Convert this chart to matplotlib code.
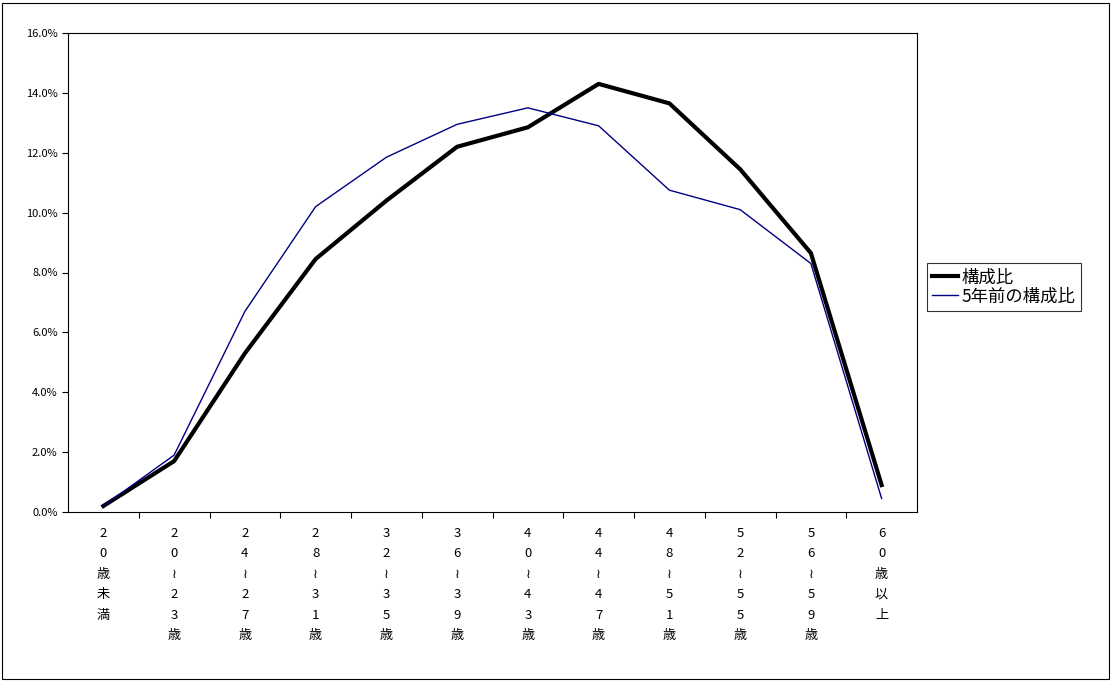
import matplotlib
matplotlib.use("Agg")
import matplotlib.pyplot as plt
from matplotlib.ticker import FuncFormatter, MultipleLocator

plt.rcParams['font.family'] = ['Noto Sans CJK JP', 'DejaVu Sans']

categories = ["20歳未満", "20≀23歳", "24≀27歳", "28≀31歳", "32≀35歳", "36≀39歳",
              "40≀43歳", "44≀47歳", "48≀51歳", "52≀55歳", "56≀59歳", "60歳以上"]
current = [0.2, 1.7, 5.3, 8.45, 10.4, 12.2, 12.85, 14.3, 13.65, 11.45, 8.65, 0.9]
five_years_ago = [0.2, 1.9, 6.7, 10.2, 11.85, 12.95, 13.5, 12.9, 10.75, 10.1, 8.3, 0.45]

fig = plt.figure(figsize=(11.12, 6.81), dpi=100)
ax = fig.add_axes([68/1112, 1-512/681, (917-68)/1112, (512-33)/681])
x = list(range(len(categories)))
ax.plot(x, current, color='black', lw=3, label='構成比')
ax.plot(x, five_years_ago, color='#000080', lw=1, label='5年前の構成比')
ax.set_xlim(-0.5, len(categories)-0.5)
ax.set_ylim(0, 16)
ax.yaxis.set_major_locator(MultipleLocator(2))
ax.yaxis.set_major_formatter(FuncFormatter(lambda v, p: f"{v:.1f}%"))
ax.tick_params(axis='y', labelsize=8, direction='out', length=4)
ax.set_xticks([i+0.5 for i in range(len(categories)-1)], minor=False)
ax.set_xticklabels([])
ax.tick_params(axis='x', direction='out', length=4)
for i, c in enumerate(categories):
    ax.text(i, -0.5, "\n".join(c), ha='center', va='top', fontsize=9.5,
            linespacing=1.75, transform=ax.transData)
for s in ax.spines.values():
    s.set_linewidth(0.8)
leg = ax.legend(loc='center left', bbox_to_anchor=(1.012, 0.47), fontsize=12.5,
                frameon=True, fancybox=False, edgecolor='black', handlelength=1.5,
                handletextpad=0.2, borderpad=0.3, labelspacing=0.05, borderaxespad=0)
leg.get_frame().set_linewidth(0.8)
fig.patches.append(plt.Rectangle((2/1112, 2/681), 1-5/1112, 1-5/681, transform=fig.transFigure,
                                 fill=False, edgecolor='black', lw=0.8))
fig.savefig("out.png", dpi=100)
